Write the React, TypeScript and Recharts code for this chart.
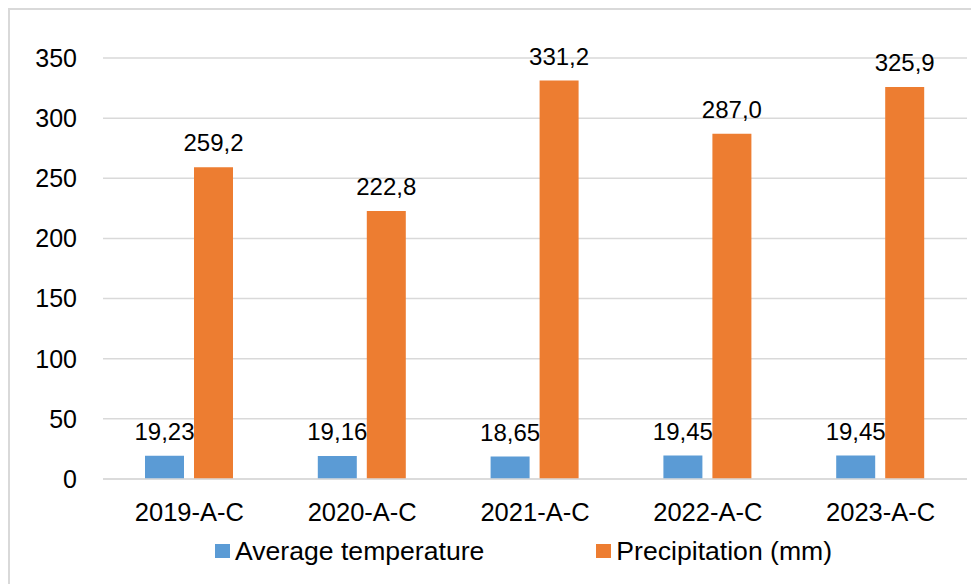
import { BarChart, Bar, XAxis, YAxis, CartesianGrid, Legend, LabelList } from 'recharts';

const categories = ['2019-A-C', '2020-A-C', '2021-A-C', '2022-A-C', '2023-A-C'];
const avgTemperature = [19.23, 19.16, 18.65, 19.45, 19.45];
const precipitation = [259.2, 222.8, 331.2, 287.0, 325.9];
const yTicks = [0, 50, 100, 150, 200, 250, 300, 350];

const data = categories.map((name, i) => ({
  name,
  temp: avgTemperature[i],
  prec: precipitation[i],
}));

const FONT = '"Liberation Sans", Arial, sans-serif';
const BLUE = '#5B9BD5';
const ORANGE = '#ED7D31';

const comma = (digits) => (v) => Number(v).toFixed(digits).replace('.', ',');

const renderLegend = () => {
  const items = [
    { label: 'Average temperature', color: BLUE },
    { label: 'Precipitation (mm)', color: ORANGE },
  ];
  return (
    <div style={{ display: 'flex', alignItems: 'center', height: 30, gap: 112, fontFamily: FONT, fontSize: 26.6, color: '#000' }}>
      {items.map((it) => (
        <div key={it.label} style={{ display: 'flex', alignItems: 'center', gap: 5 }}>
          <span style={{ display: 'inline-block', width: 15, height: 14, background: it.color }} />
          <span style={{ whiteSpace: 'nowrap' }}>{it.label}</span>
        </div>
      ))}
    </div>
  );
};

export default function App() {
  // the frame is the box's own top/left border; bottom and right run off the page
  return (
    <div
      style={{
        width: 969,
        height: 574,
        overflow: 'hidden',
        borderTop: '2px solid #d9d9d9',
        borderLeft: '2px solid #d9d9d9',
        fontFamily: FONT,
      }}
    >
      <BarChart
        width={978}
        height={582}
        data={data}
        margin={{ top: 48, right: 21, left: 0, bottom: 23 }}
        barSize={39}
        barGap={10}
      >
        <CartesianGrid vertical={false} stroke="#d9d9d9" strokeWidth={1.5} />
        <XAxis
          dataKey="name"
          height={60}
          tickLine={false}
          tickSize={0}
          tickMargin={24}
          axisLine={{ stroke: '#d9d9d9', strokeWidth: 1.5 }}
          tick={{ fill: '#000', fontSize: 25.5, fontFamily: FONT }}
          interval={0}
        />
        <YAxis
          width={93}
          domain={[0, 350]}
          ticks={yTicks}
          axisLine={false}
          tickLine={false}
          tickSize={0}
          tickMargin={26}
          tick={{ fill: '#000', fontSize: 25, fontFamily: FONT }}
        />
        <Legend
          content={renderLegend}
          wrapperStyle={{ left: 205, top: 526, width: 'auto' }}
        />
        <Bar dataKey="temp" name="Average temperature" fill={BLUE} isAnimationActive={false}>
          <LabelList
            dataKey="temp"
            position="top"
            offset={16}
            formatter={comma(2)}
            style={{ fill: '#000', fontSize: 24, fontFamily: FONT }}
          />
        </Bar>
        <Bar dataKey="prec" name="Precipitation (mm)" fill={ORANGE} isAnimationActive={false}>
          <LabelList
            dataKey="prec"
            position="top"
            offset={16}
            formatter={comma(1)}
            style={{ fill: '#000', fontSize: 24, fontFamily: FONT }}
          />
        </Bar>
      </BarChart>
    </div>
  );
}
